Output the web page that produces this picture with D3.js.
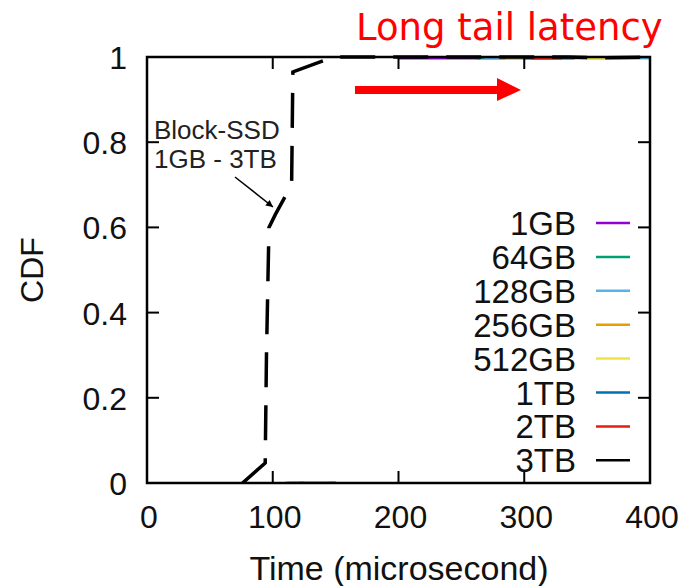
<!DOCTYPE html>
<html><head><meta charset="utf-8">
<script src="https://cdn.jsdelivr.net/npm/d3@7"></script>
<style>body{margin:0;background:#fff}svg{display:block}</style>
</head><body><div id="c"></div>
<script>
const seriesNames = ["1GB","64GB","128GB","256GB","512GB","1TB","2TB","3TB"];
const seriesColors = ["#9400d3","#009e73","#56b4e9","#e69f00","#f0e442","#0072b2","#e51e10","#000000"];
const xTicks = [0,100,200,300,400];
const yTicks = [0,0.2,0.4,0.6,0.8,1];
// latency (us) / CDF pairs; null CDF = gap
const cdf1GB   = [[110,0],[150,0],[155,null],[200,0.997],[265,0.997]];
const cdf64GB  = [[112,0],[150,0],[155,null],[262,0.997],[300,0.997]];
const cdf128GB = [[114,0],[150,0],[155,null],[268,0.997],[310,0.997],[390,0.997],[400,0.997]];
const cdf256GB = [[116,0],[150,0],[155,null],[280,0.997],[320,0.997]];
const cdf512GB = [[118,0],[150,0],[155,null],[285,0.997],[325,0.997],[365,0.997],[375,0.997]];
const cdf1TB   = [[120,0],[125,0],[155,null],[300,0.997],[340,0.997]];
const cdf2TB   = [[145,0],[150,0],[155,null],[305,0.997],[330,0.997]];
const cdf3TB   = [[76,0],[94,0.047],[95,0.3],[97,0.6],[102,0.63],[115,0.70],[116,0.965],[148,1.0],[170,1.0],[335,1.0],[360,0.998],[400,1.0]];
const allSeries = [cdf1GB,cdf64GB,cdf128GB,cdf256GB,cdf512GB,cdf1TB,cdf2TB,cdf3TB];

const W=685,H=586;
const svg=d3.select("#c").append("svg").attr("width",W).attr("height",H);
const L=147,R=650,T=57,B=483;
const x=d3.scaleLinear().domain([0,400]).range([L,R]);
const y=d3.scaleLinear().domain([0,1]).range([B,T]);
const font="Liberation Sans, Arial, sans-serif";

svg.append("clipPath").attr("id","cp").append("rect").attr("x",L).attr("y",T-3).attr("width",R-L).attr("height",B-T+3);

const line=d3.line().defined(d=>d[1]!==null).x(d=>x(d[0])).y(d=>y(d[1]));
const g=svg.append("g").attr("clip-path","url(#cp)");
allSeries.forEach((s,i)=>{
  const p=g.append("path").datum(s).attr("d",line).attr("fill","none")
    .attr("stroke",seriesColors[i]).attr("stroke-width",i===7?3.5:2.5);
  if(i===7) p.attr("stroke-dasharray","35,18");
});

// axes
const ax=svg.append("g").attr("font-family",font).attr("font-size",32).attr("fill","#111");
svg.append("rect").attr("x",L).attr("y",T).attr("width",R-L).attr("height",B-T)
  .attr("fill","none").attr("stroke","#000").attr("stroke-width",2.5);
const tl=12;
xTicks.forEach(t=>{
  const px=x(t);
  if(t>0&&t<400){
    svg.append("line").attr("x1",px).attr("x2",px).attr("y1",B).attr("y2",B-tl).attr("stroke","#000").attr("stroke-width",2);
    svg.append("line").attr("x1",px).attr("x2",px).attr("y1",T).attr("y2",T+tl).attr("stroke","#000").attr("stroke-width",2);
  }
  ax.append("text").attr("x",px+2).attr("y",528).attr("text-anchor","middle").text(d3.format("d")(t));
});
yTicks.forEach(t=>{
  const py=y(t);
  if(t>0&&t<1){
    svg.append("line").attr("x1",L).attr("x2",L+tl).attr("y1",py).attr("y2",py).attr("stroke","#000").attr("stroke-width",2);
    svg.append("line").attr("x1",R).attr("x2",R-tl).attr("y1",py).attr("y2",py).attr("stroke","#000").attr("stroke-width",2);
  }
  ax.append("text").attr("x",127).attr("y",py+12).attr("text-anchor","end").text(t===0||t===1?String(t):d3.format(".1f")(t));
});
ax.append("text").attr("x",399).attr("y",580).attr("text-anchor","middle").attr("font-size",34).text("Time (microsecond)");
ax.append("text").attr("transform","translate(43,"+((T+B)/2)+") rotate(-90)").attr("text-anchor","middle").attr("font-size",32).text("CDF");

// legend
const lg=svg.append("g").attr("font-family",font).attr("font-size",33).attr("fill","#111");
seriesNames.forEach((n,i)=>{
  const cy=223+i*33.9;
  lg.append("text").attr("x",576).attr("y",cy+12).attr("text-anchor","end").text(n);
  lg.append("line").attr("x1",596).attr("x2",630).attr("y1",cy).attr("y2",cy).attr("stroke",seriesColors[i]).attr("stroke-width",2.5);
});

// annotation
const an=svg.append("g").attr("font-family",font).attr("font-size",26).attr("fill","#222");
an.append("text").attr("x",154).attr("y",139).text("Block-SSD");
an.append("text").attr("x",154).attr("y",168).text("1GB - 3TB");
svg.append("defs").append("marker").attr("id","ah").attr("viewBox","0 0 10 10").attr("refX",10).attr("refY",5)
  .attr("markerWidth",8).attr("markerHeight",7).attr("markerUnits","userSpaceOnUse").attr("orient","auto")
  .append("path").attr("d","M0,0L10,5L0,10z").attr("fill","#000");
svg.append("line").attr("x1",235).attr("y1",177).attr("x2",273).attr("y2",207).attr("stroke","#000").attr("stroke-width",1.5).attr("marker-end","url(#ah)");

// long tail annotation
svg.append("text").attr("x",356).attr("y",40).attr("font-family","DejaVu Sans, Verdana, sans-serif").attr("font-size",37).attr("fill","#ff0000").text("Long tail latency");
svg.append("rect").attr("x",355).attr("y",86).attr("width",145).attr("height",8).attr("fill","#ff0000");
svg.append("path").attr("d","M497,78L521,90L497,101Z").attr("fill","#ff0000");
</script></body></html>
